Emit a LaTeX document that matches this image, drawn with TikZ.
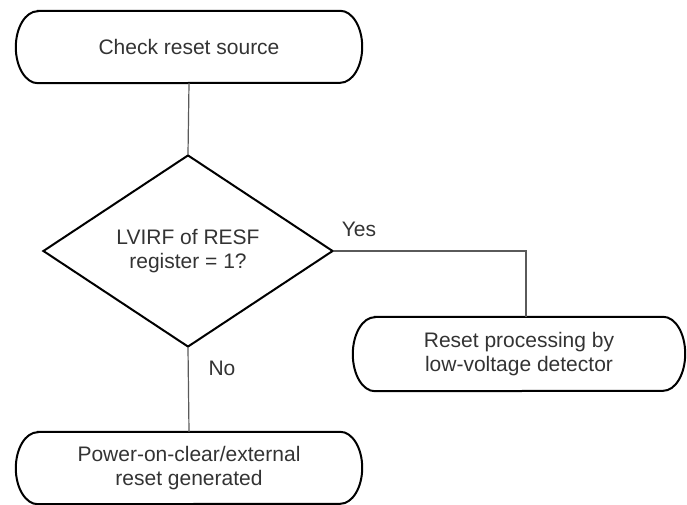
\documentclass[tikz,border=0pt]{standalone}
\usepackage{fontspec}
\setmainfont{Liberation Sans}
\usetikzlibrary{shapes.geometric,calc}
\definecolor{txt}{HTML}{333333}
\definecolor{conn}{HTML}{5A5A5A}
\tikzset{
  lbl/.style={font=\fontsize{21}{24.5}\selectfont, text=txt, align=center, inner sep=0pt},
  termbox/.style={lbl, minimum width=#1, minimum height=72pt},
  outline/.style={draw=black, line width=2pt},
  connector/.style={draw=conn, line width=1.2pt},
  decision/.style={lbl, diamond, outline, minimum width=290pt, minimum height=192pt}
}
\newcommand{\termoutline}[1]{%
  \draw[outline] ($(#1.north west)+(22pt,0)$) -- ($(#1.north east)+(-22pt,0)$)
    arc[start angle=90,end angle=-90,x radius=22pt,y radius=36pt]
    -- ($(#1.south west)+(22pt,0)$)
    arc[start angle=270,end angle=90,x radius=22pt,y radius=36pt] -- cycle;}
\begin{document}
\begin{tikzpicture}[x=1pt,y=-1pt]
\useasboundingbox (0,0) rectangle (687,505);
\node[termbox=346pt] (t1) at (189,47) {Check reset source};
\termoutline{t1}
\node[decision] (d) at (188,251) {LVIRF of RESF\\register = 1?};
\node[termbox=332pt, minimum height=74pt] (t2) at (519,354) {Reset processing by\\low-voltage detector};
\draw[outline] ($(t2.north west)+(22pt,0)$) -- ($(t2.north east)+(-22pt,0)$)
    arc[start angle=90,end angle=-90,x radius=22pt,y radius=37pt]
    -- ($(t2.south west)+(22pt,0)$)
    arc[start angle=270,end angle=90,x radius=22pt,y radius=37pt] -- cycle;
\node[termbox=346pt] (t3) at (189,468) {Power-on-clear/external\\reset generated};
\termoutline{t3}
\node[lbl] (yes) at (359,229) {Yes};
\node[lbl] (no) at (222,368) {No};
\coordinate (yc) at ([xshift=7pt]t2.north);
\draw[connector] (t1.south) -- (d.north);
\draw[connector] (d.east) -| (yc);
\draw[connector] (d.south) -- (t3.north);
\end{tikzpicture}
\end{document}
